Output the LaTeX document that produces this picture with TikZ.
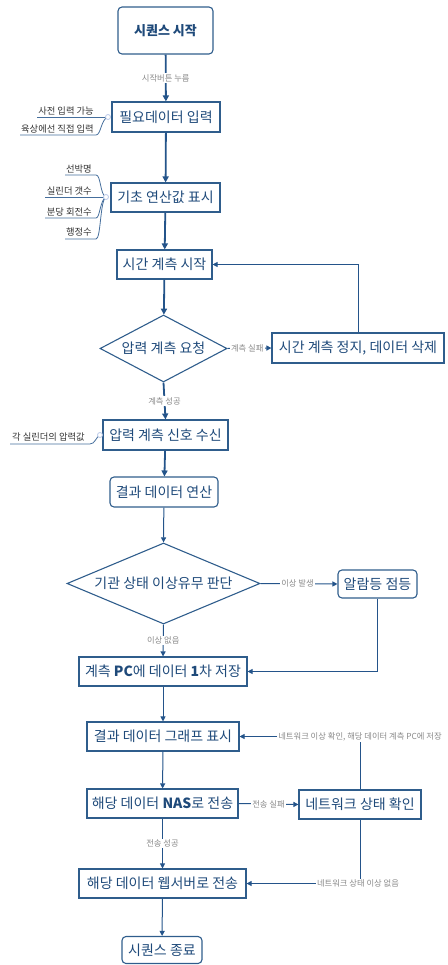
\documentclass[tikz,border=0pt]{standalone}
\usepackage{fontspec}
\setmainfont{Noto Sans CJK KR}
\usetikzlibrary{shapes.geometric,arrows.meta}
\definecolor{bord}{HTML}{2F5D8C}
\definecolor{txt}{HTML}{1F4A7A}
\definecolor{arr}{HTML}{24548A}
\definecolor{lab}{HTML}{8A8A8A}
\definecolor{ann}{HTML}{333333}
\definecolor{dotc}{HTML}{B8C8E8}
\begin{document}
\begin{tikzpicture}[x=1pt,y=-1pt,
 box/.style={draw=bord, line width=1.1pt, text=txt, inner sep=0pt, font=\fontsize{14}{16}\selectfont},
 rbox/.style={box, rounded corners=4pt},
 dia/.style={draw=bord, line width=1.1pt, diamond, inner sep=0pt},
 mtext/.style={text=txt, inner sep=0pt, font=\fontsize{14}{16}\selectfont},
 lbl/.style={fill=white, text=lab, inner sep=1pt, font=\fontsize{8.3}{10}\selectfont},
 anno/.style={text=ann, inner sep=1pt, font=\fontsize{9.3}{11}\selectfont, anchor=south east},
 aline/.style={draw=arr!85, line width=0.8pt},
 tarrow/.style={draw=arr, line width=1.8pt, -{Triangle[length=6pt,width=6pt]}},
 narrow/.style={draw=arr, line width=1pt, -{Triangle[length=5pt,width=5pt]}},
 pline/.style={draw=arr, line width=1pt},
 jdot/.style={circle, draw=dotc, fill=white, minimum size=5pt, inner sep=0pt, line width=0.8pt}
]
\useasboundingbox (0,0) rectangle (447,965);

% main nodes
\node[rbox, minimum width=95, minimum height=47, font=\fontsize{13}{15}\selectfont\bfseries] (b1) at (165.5,30.5) {시퀀스 시작};
\node[box, minimum width=108, minimum height=30] (b2) at (166,117) {필요데이터 입력};
\node[box, minimum width=109, minimum height=29] (b3) at (165.5,197.5) {기초 연산값 표시};
\node[box, minimum width=95, minimum height=29] (b4) at (164.5,264.5) {시간 계측 시작};
\node[dia, minimum width=127, minimum height=67] (d1) at (163.5,348.5) {};
\node[mtext] (d1t) at (d1) {압력 계측 요청};
\node[box, minimum width=172, minimum height=30] (b6) at (358,348) {시간 계측 정지, 데이터 삭제};
\node[box, minimum width=125, minimum height=30] (b7) at (165.5,435) {압력 계측 신호 수신};
\node[rbox, minimum width=108, minimum height=30] (b8) at (164,492) {결과 데이터 연산};
\node[dia, minimum width=193, minimum height=81] (d2) at (163.5,583.5) {};
\node[mtext] (d2t) at (d2) {기관 상태 이상유무 판단};
\node[rbox, minimum width=79, minimum height=28] (b10) at (377.5,584) {알람등 점등};
\node[box, minimum width=168, minimum height=29] (b11) at (163,671.5) {계측 \textbf{PC}에 데이터 \textbf{1}차 저장};
\node[box, minimum width=152, minimum height=29] (b12) at (163,736.5) {결과 데이터 그래프 표시};
\node[box, minimum width=151, minimum height=29] (b13) at (162.5,803.5) {해당 데이터 \textbf{NAS}로 전송};
\node[box, minimum width=122, minimum height=29] (b14) at (360,804.5) {네트워크 상태 확인};
\node[box, minimum width=167, minimum height=29] (b15) at (162.5,883.5) {해당 데이터 웹서버로 전송};
\node[rbox, minimum width=80, minimum height=27] (b16) at (162,950) {시퀀스 종료};

% side labels with lines
\node[lbl] (nl1) at (360,736.5) {네트워크 이상 확인, 해당 데이터 계측 PC에 저장};
\node[lbl] (nl2) at (358,883.5) {네트워크 상태 이상 없음};

% connectors
\draw[tarrow] (b1) -- node[lbl, pos=0.5] (l1) {시작버튼 누름} (b2);
\draw[tarrow] (b2) -- (b3);
\draw[tarrow] (b3) -- (b4);
\draw[tarrow] (b4) -- (d1);
\draw[narrow] (d1.east) -- node[lbl, pos=0.45] (l2) {계측 실패} (b6.west);
\coordinate (c1) at (b6.north |- b4.east);
\draw[narrow] (b6.north) -- (c1) -- (b4.east);
\draw[tarrow] (d1.south) -- node[lbl, pos=0.5] (l3) {계측 성공} (b7.north);
\draw[tarrow] (b7) -- (b8);
\draw[narrow] (b8) -- (d2.north);
\draw[narrow] (d2.east) -- node[lbl, pos=0.48] (l4) {이상 발생} (b10.west);
\coordinate (c2) at (b10.south |- b11.east);
\draw[narrow] (b10.south) -- (c2) -- (b11.east);
\draw[narrow] (d2.south) -- node[lbl, pos=0.5] (l5) {이상 없음} (b11.north);
\draw[narrow] (b11) -- (b12);
\draw[narrow] (b12) -- (b13);
\draw[narrow] (b13.east) -- node[lbl, pos=0.5] (l6) {전송 실패} (b14.west);
\draw[pline] (b14.north) -- (b14.north |- nl1.south);
\draw[narrow] (nl1.west) -- (b12.east);
\draw[narrow] (b13.south) -- node[lbl, pos=0.5] (l7) {전송 성공} (b15.north);
\draw[pline] (b14.south) -- (b14.south |- nl2.north);
\draw[narrow] (nl2.west) -- (b15.east);
\draw[narrow] (b15) -- (b16);

% annotations of b2
\coordinate (j2) at (108,117);
\node[anno] (a21) at (95,116) {사전 입력 가능};
\node[anno] (a22) at (95,134) {육상에선 직접 입력};
\draw[aline] (37,117) -- (j2);
\draw[aline] (20,135) -- (96,135) .. controls (101,135) and (101,119) .. (j2);
\node[jdot] (dot2) at (j2) {};

% annotations of b3
\coordinate (j3) at (106,197);
\node[anno] (a31) at (93,174) {선박명};
\node[anno] (a32) at (93,196) {실린더 갯수};
\node[anno] (a33) at (93,217) {분당 회전수};
\node[anno] (a34) at (93,237) {행정수};
\draw[aline] (65,175) -- (96,175) .. controls (101,175) and (100,195) .. (j3);
\draw[aline] (45,197) -- (j3);
\draw[aline] (45,218) -- (96,218) .. controls (100,218) and (100,200) .. (j3);
\draw[aline] (65,239) -- (96,239) .. controls (101,239) and (100,200) .. (j3);
\node[jdot] (dot3) at (j3) {};

% annotation of b7
\coordinate (j7) at (100,435);
\node[anno] (a71) at (86,442) {각 실린더의 압력값};
\draw[aline] (10,444) -- (90,444) .. controls (95,444) and (96,437) .. (j7);
\node[jdot] (dot7) at (j7) {};
\end{tikzpicture}
\end{document}
